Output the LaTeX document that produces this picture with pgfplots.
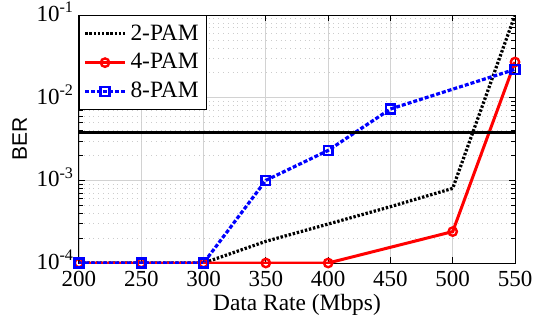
\documentclass[border=0pt]{standalone}
\usepackage{fontspec}
\setmainfont{Liberation Serif}[Ligatures=TeX]
\newfontfamily\serif{Liberation Serif}
\newfontfamily\arialfont{Liberation Sans}
\usepackage{pgfplots}
\pgfplotsset{compat=1.18}
\begin{document}
\begin{tikzpicture}
\useasboundingbox (-39.5pt,-32.5pt) rectangle (227.5pt,131.5pt);
\begin{axis}[
  at={(0,0)}, anchor=south west,
  scale only axis, width=218pt, height=124pt,
  ymode=log,
  xmin=200, xmax=550, ymin=1e-4, ymax=1e-1,
  xtick={200,250,...,550},
  xticklabels={200,250,300,350,400,450,500,550},
  ytick={1e-4,1e-3,1e-2,1e-1},
  yticklabels={10\textsuperscript{-4},10\textsuperscript{-3},10\textsuperscript{-2},10\textsuperscript{-1}},
  tick align=inside,
  major tick length=3pt, minor tick length=1.8pt,
  tick style={black, line width=0.4pt},
  axis line style={black, line width=0.5pt},
  xmajorgrids, ymajorgrids, yminorgrids,
  major grid style={gray!35, line width=0.4pt},
  minor grid style={gray!40, dotted, line width=0.4pt},
  ticklabel style={font=\serif\fontsize{11.5}{13}\selectfont},
  xticklabel style={yshift=-0.5pt},
  yticklabel style={xshift=1pt, yshift=1.5pt},
  xlabel={Data Rate (Mbps)},
  xlabel style={font=\serif\fontsize{11.7}{13}\selectfont, yshift=3pt},
  ylabel={BER},
  ylabel style={font=\arialfont\fontsize{10.5}{12}\selectfont, yshift=-2pt},
  legend style={at={(0,1)}, anchor=north west, draw=black, line width=0.5pt,
    font=\serif\fontsize{11.7}{14}\selectfont, inner xsep=2pt, inner ysep=2.5pt, row sep=1.2pt,
    cells={anchor=west}},
  legend image code/.code={
    \draw[mark repeat=2,mark phase=2] plot coordinates {(0cm,0cm) (0.35cm,0cm) (0.7cm,0cm)};},
]
\addplot[black, line width=1.6pt, dash pattern=on 1.2pt off 0.9pt] coordinates {
 (200,1e-4) (250,1e-4) (300,1e-4) (350,1.83e-4) (400,2.96e-4) (450,4.8e-4) (500,8.0e-4) (550,1e-1)};
\addlegendentry{2-PAM}
\addplot[red, line width=1.5pt, mark=o, mark size=2.1pt, mark options={solid, line width=1.2pt}] coordinates {
 (200,1e-4) (250,1e-4) (300,1e-4) (350,1e-4) (400,1e-4) (500,2.4e-4) (550,2.7e-2)};
\addlegendentry{4-PAM}
\addplot[blue, line width=1.6pt, dash pattern=on 2pt off 1pt, mark=square, mark size=2.2pt, mark options={solid, line width=1.2pt}] coordinates {
 (200,1e-4) (250,1e-4) (300,1e-4) (350,1.0e-3) (400,2.3e-3) (450,7.3e-3) (550,2.2e-2)};
\addlegendentry{8-PAM}
\addplot[black, line width=1.1pt, forget plot] coordinates {(200,3.8e-3) (550,3.8e-3)};
\end{axis}
\end{tikzpicture}
\end{document}
